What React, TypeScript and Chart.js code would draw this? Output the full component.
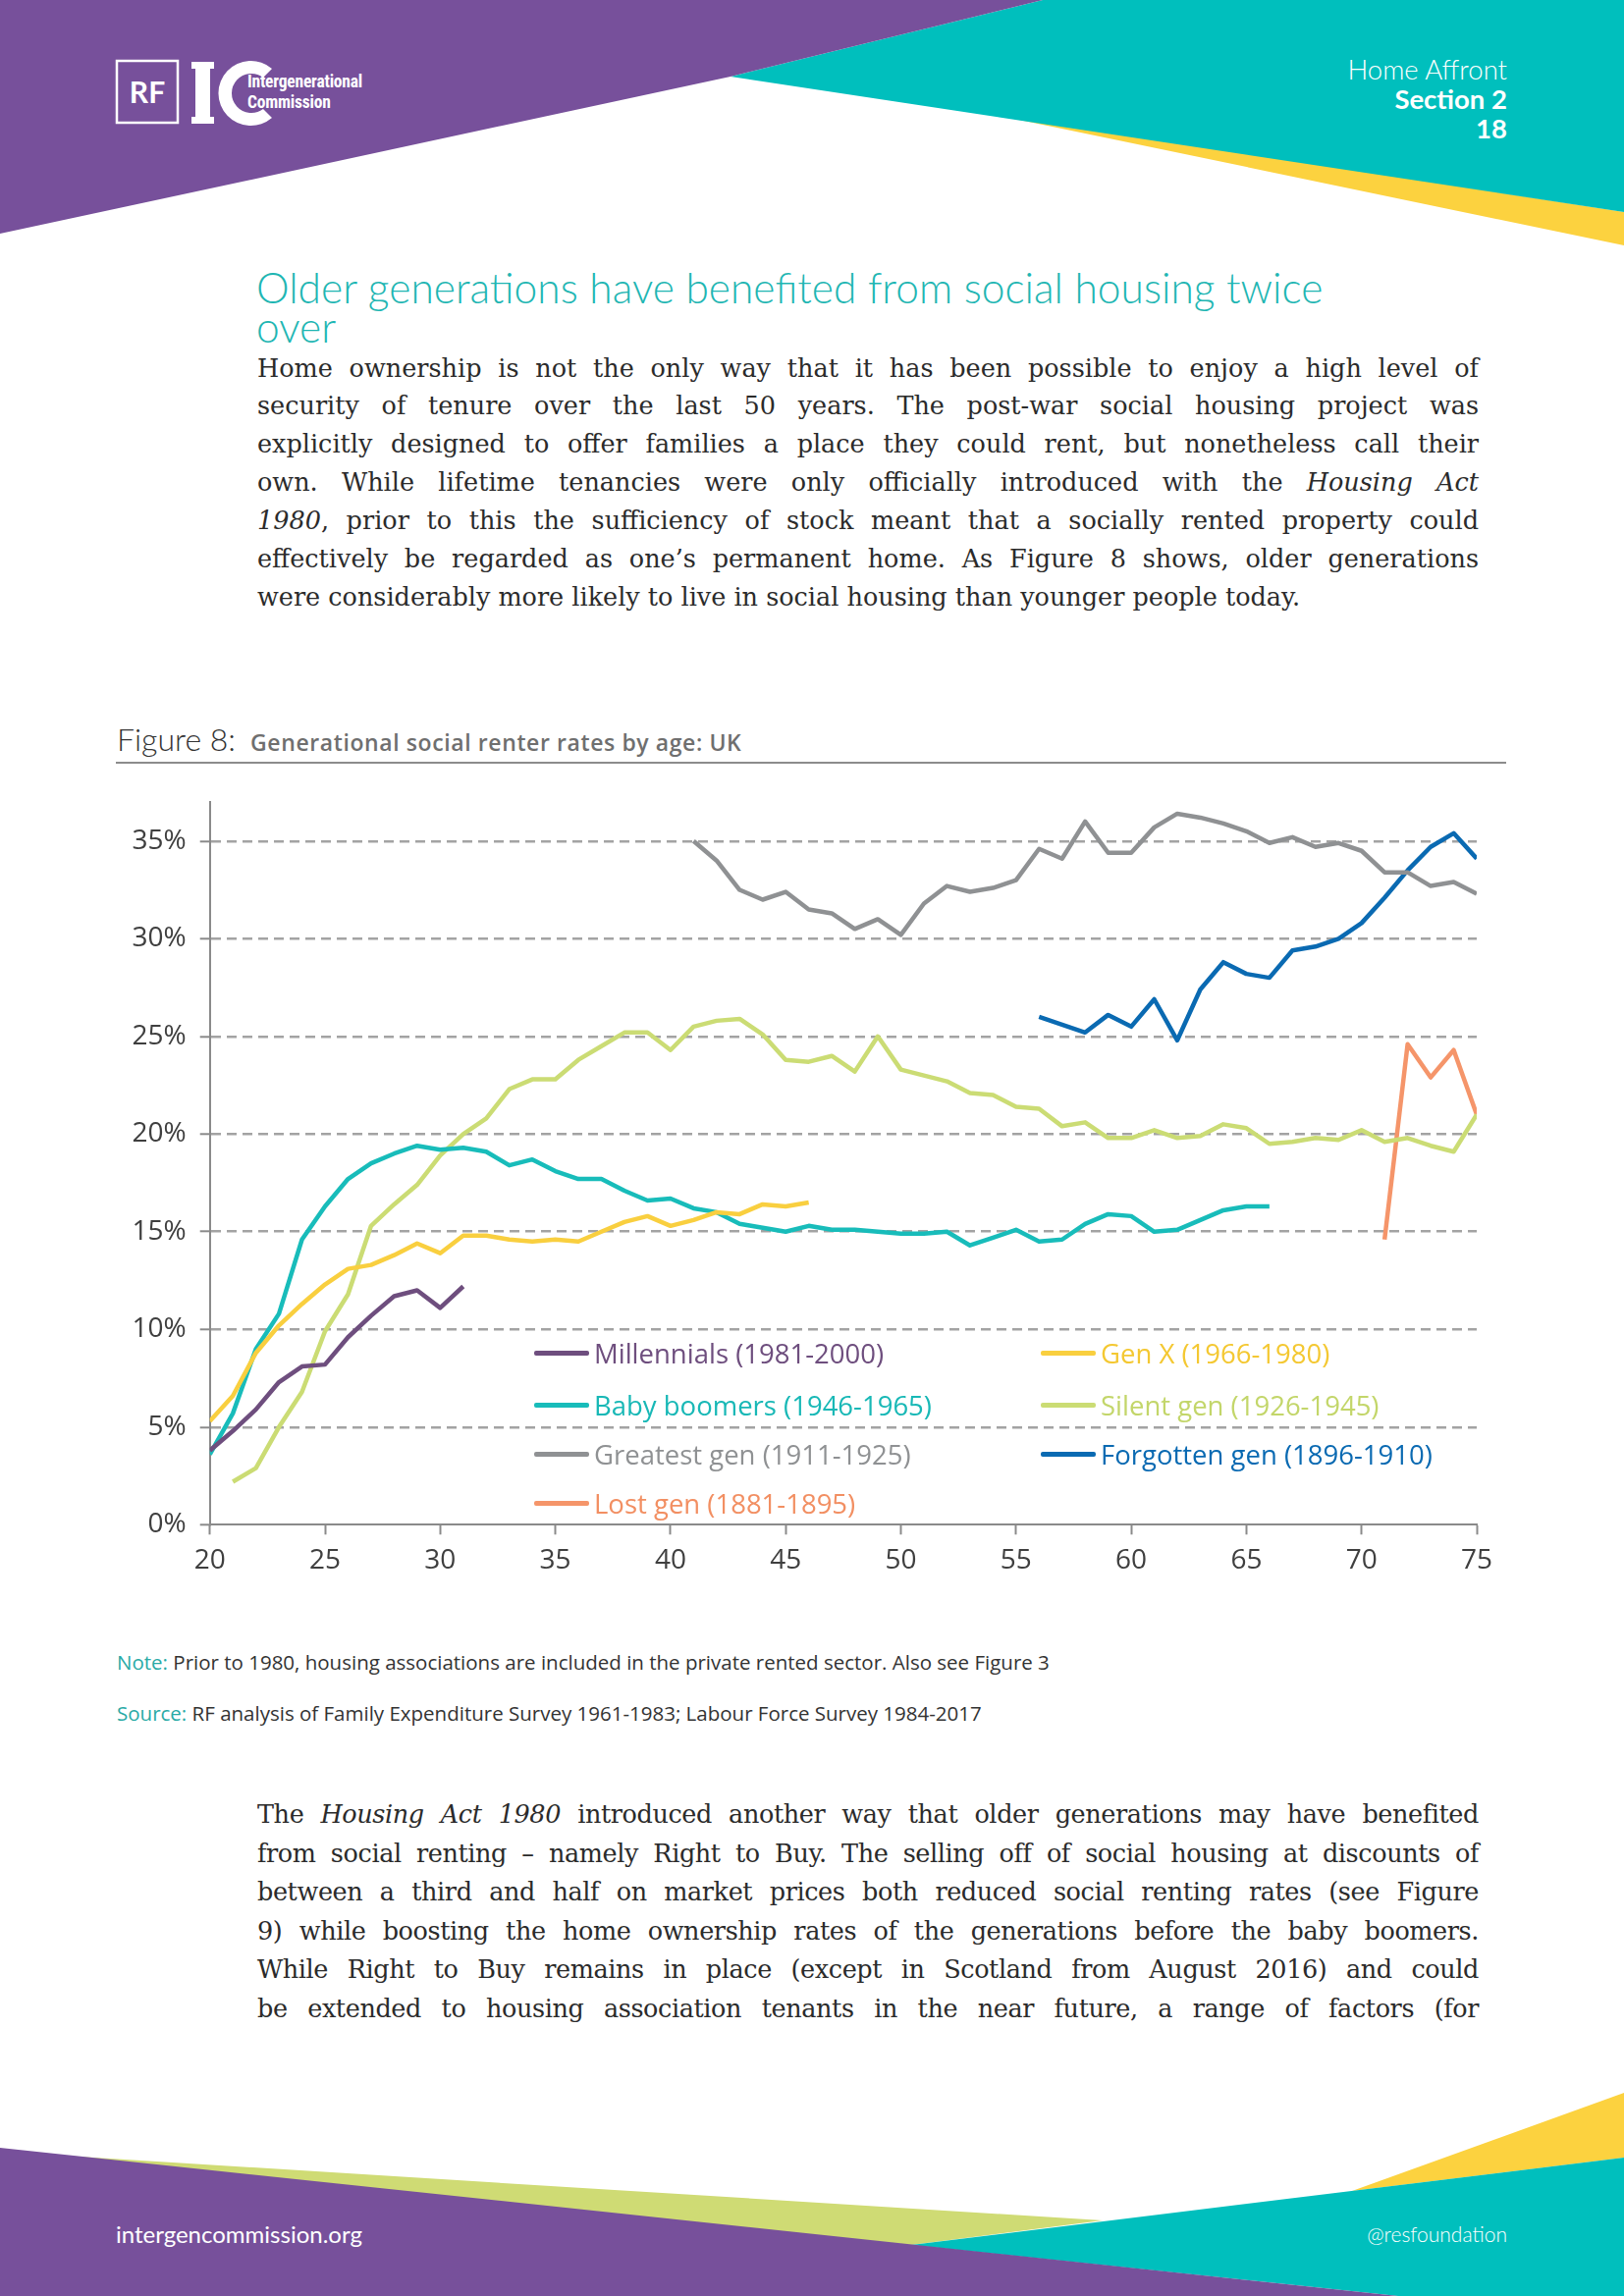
import React, { useEffect, useRef } from "react";
import { Chart, registerables } from "chart.js";

Chart.register(...registerables);

// ---------- DATA ----------
const ageMin = 20;
const ageMax = 75;
const yTickStep = 5;
const yMax = 37;

const millennialsStart = 20;
const millennials = [3.8, 4.8, 5.9, 7.3, 8.1, 8.2, 9.6, 10.7, 11.7, 12.0, 11.1, 12.2];

const genXStart = 20;
const genX = [5.3, 6.6, 8.8, 10.2, 11.3, 12.3, 13.1, 13.3, 13.8, 14.4, 13.9, 14.8, 14.8, 14.6, 14.5, 14.6, 14.5, 15.0, 15.5, 15.8, 15.3, 15.6, 16.0, 15.9, 16.4, 16.3, 16.5];

const boomersStart = 20;
const boomers = [3.6, 5.7, 9.0, 10.8, 14.6, 16.3, 17.7, 18.5, 19.0, 19.4, 19.2, 19.3, 19.1, 18.4, 18.7, 18.1, 17.7, 17.7, 17.1, 16.6, 16.7, 16.2, 16.0, 15.4, 15.2, 15.0, 15.3, 15.1, 15.1, 15.0, 14.9, 14.9, 15.0, 14.3, 14.7, 15.1, 14.5, 14.6, 15.4, 15.9, 15.8, 15.0, 15.1, 15.6, 16.1, 16.3, 16.3];

const silentStart = 21;
const silent = [2.2, 2.9, 5.0, 6.8, 9.9, 11.8, 15.3, 16.4, 17.4, 18.9, 20.0, 20.8, 22.3, 22.8, 22.8, 23.8, 24.5, 25.2, 25.2, 24.3, 25.5, 25.8, 25.9, 25.1, 23.8, 23.7, 24.0, 23.2, 25.0, 23.3, 23.0, 22.7, 22.1, 22.0, 21.4, 21.3, 20.4, 20.6, 19.8, 19.8, 20.2, 19.8, 19.9, 20.5, 20.3, 19.5, 19.6, 19.8, 19.7, 20.2, 19.6, 19.8, 19.4, 19.1, 21.0];

const greatestStart = 41;
const greatest = [35.0, 34.0, 32.5, 32.0, 32.4, 31.5, 31.3, 30.5, 31.0, 30.2, 31.8, 32.7, 32.4, 32.6, 33.0, 34.6, 34.1, 36.0, 34.4, 34.4, 35.7, 36.4, 36.2, 35.9, 35.5, 34.9, 35.2, 34.7, 34.9, 34.5, 33.4, 33.4, 32.7, 32.9, 32.3];

const forgottenStart = 56;
const forgotten = [26.0, 25.6, 25.2, 26.1, 25.5, 26.9, 24.8, 27.4, 28.8, 28.2, 28.0, 29.4, 29.6, 30.0, 30.8, 32.1, 33.5, 34.7, 35.4, 34.1];

const lostStart = 71;
const lost = [14.6, 24.6, 22.9, 24.3, 21.0];

const seriesNames = [
  "Millennials (1981-2000)",
  "Gen X (1966-1980)",
  "Baby boomers (1946-1965)",
  "Silent gen (1926-1945)",
  "Greatest gen (1911-1925)",
  "Forgotten gen (1896-1910)",
  "Lost gen (1881-1895)",
];
const seriesColors = ["#6e4e7e", "#f9cf3f", "#18bcba", "#cbdc74", "#8f9193", "#0a6ab2", "#f5956a"];
const legendTextColors = ["#6e4e7e", "#f4c832", "#18b8b6", "#c3d66a", "#8f9193", "#0a6ab2", "#f28f62"];

// ---------- LAYOUT CONSTANTS ----------
const PAGE_W = 1654;
const PAGE_H = 2339;
const PLOT_TOP = 816.7;
const PAD_TOP = 34;
const CANVAS_LEFT = 100;
const CANVAS_TOP = PLOT_TOP - PAD_TOP;
const CANVAS_W = 1440;
const CANVAS_H = 1613 - CANVAS_TOP;
const SANS = "'Open Sans', sans-serif";

const toPoints = (start: number, values: number[]) => values.map((v, i) => ({ x: start + i, y: v }));

function ChartBlock() {
  const ref = useRef<HTMLCanvasElement | null>(null);
  useEffect(() => {
    if (!ref.current) return;
    const starts = [millennialsStart, genXStart, boomersStart, silentStart, greatestStart, forgottenStart, lostStart];
    const vals = [millennials, genX, boomers, silent, greatest, forgotten, lost];
    const datasets = vals.map((v, i) => ({
      label: seriesNames[i],
      data: toPoints(starts[i], v),
      borderColor: seriesColors[i],
      backgroundColor: seriesColors[i],
      borderWidth: 4.5,
      pointRadius: 0,
      tension: 0,
      borderJoinStyle: "round" as const,
      fill: false,
    }));
    const chart = new Chart(ref.current, {
      type: "line",
      data: { datasets },
      options: {
        animation: false,
        responsive: true,
        maintainAspectRatio: false,
        layout: { padding: { top: PAD_TOP, right: 36, left: 0, bottom: 0 } },
        plugins: { legend: { display: false }, tooltip: { enabled: false } },
        scales: {
          x: {
            type: "linear",
            min: ageMin,
            max: ageMax,
            afterFit: (s: any) => {
              s.height = 60;
            },
            ticks: {
              stepSize: 5,
              padding: 10,
              color: "#3f3f3f",
              font: { family: SANS, size: 28 },
            },
            grid: {
              drawOnChartArea: false,
              drawTicks: true,
              tickLength: 10,
              tickColor: "#8a8a8a",
              tickWidth: 2,
            },
            border: { color: "#8a8a8a", width: 2 },
          },
          y: {
            min: 0,
            max: yMax,
            afterFit: (s: any) => {
              s.width = 113.7;
            },
            ticks: {
              stepSize: yTickStep,
              includeBounds: false,
              padding: 14,
              color: "#3f3f3f",
              font: { family: SANS, size: 28 },
              callback: (v: any) => v + "%",
            },
            grid: {
              color: (c: any) => (c.tick && c.tick.value === 0 ? "rgba(0,0,0,0)" : "#a3a3a3"),
              lineWidth: 2.6,
              tickLength: 10,
              tickColor: "#8a8a8a",
              tickWidth: 2,
              tickBorderDash: [],
            },
            border: { color: "#8a8a8a", width: 2, dash: [10, 6] },
          },
        },
      },
    });
    return () => chart.destroy();
  }, []);
  return (
    <div style={{ position: "absolute", left: CANVAS_LEFT, top: CANVAS_TOP, width: CANVAS_W, height: CANVAS_H }}>
      <canvas ref={ref} />
    </div>
  );
}

const legendPos = [
  { col: 0, row: 0 },
  { col: 1, row: 0 },
  { col: 0, row: 1 },
  { col: 1, row: 1 },
  { col: 0, row: 2 },
  { col: 1, row: 2 },
  { col: 0, row: 3 },
];
const legendColX = [544, 1060];
const legendRowY = [1378, 1431, 1481, 1531];

function Legend() {
  return (
    <>
      {seriesNames.map((n, i) => {
        const p = legendPos[i];
        const x = legendColX[p.col];
        const y = legendRowY[p.row];
        return (
          <div key={n} style={{ position: "absolute", left: x, top: y - 20, height: 40, display: "flex", alignItems: "center", whiteSpace: "nowrap" }}>
            <div style={{ width: 56, height: 5, background: seriesColors[i], borderRadius: 2 }} />
            <span style={{ marginLeft: 5, fontFamily: SANS, fontSize: 27.5, color: legendTextColors[i] }}>{n}</span>
          </div>
        );
      })}
    </>
  );
}

const serif = "'DejaVu Serif', serif";

function JLine({ top, children, last, tight }: { top: number; children: any; last?: boolean; tight?: boolean }) {
  return (
    <div
      style={{
        position: "absolute",
        left: 262,
        width: 1244,
        top: top - 20,
        height: 40,
        lineHeight: "40px",
        fontFamily: serif,
        fontSize: 25.5,
        color: "#2b2b2b",
        textAlign: last ? "left" : "justify",
        textAlignLast: last ? "left" : "justify",
        letterSpacing: tight ? -0.4 : 0,
        whiteSpace: "nowrap",
      }}
    >
      {children}
    </div>
  );
}

const topParaY = [375, 413, 452, 491, 530, 569, 608];
const bottomParaY = [1848, 1888, 1927, 1967, 2006, 2046];

export default function App() {
  const purple = "#77509b";
  const teal = "#00bfbd";
  const yellow = "#fcd23f";
  const lime = "#cfdb74";
  const txt: React.CSSProperties = { position: "absolute", whiteSpace: "nowrap" };
  return (
    <div style={{ position: "absolute", left: 0, top: 0, width: PAGE_W, height: PAGE_H, background: "#fff", overflow: "hidden" }}>
      <svg width={PAGE_W} height={PAGE_H} style={{ position: "absolute", left: 0, top: 0 }}>
        {/* header */}
        <polygon points="990,112 1654,216 1654,250" fill={yellow} />
        <polygon points="1062,0 1654,0 1654,216 744,78" fill={teal} />
        <polygon points="0,0 1062,0 744,78 0,238" fill={purple} />
        {/* logo */}
        <rect x={119} y={62} width={62} height={63} fill="none" stroke="#fff" strokeWidth={2.5} />
        <rect x={199} y={64} width={15} height={62} fill="#fff" />
        <rect x={195} y={63} width={23} height={7} fill="#fff" />
        <rect x={195} y={119} width={23} height={7} fill="#fff" />
        <path d="M 277 70 A 33 33 0 1 0 277 120 L 268 111 A 20 20 0 1 1 268 79 Z" fill="#fff" />
        {/* footer */}
        <polygon points="0,2192 1123,2262 928,2287" fill={lime} />
        <polygon points="1377,2232 1654,2132 1654,2198" fill={yellow} />
        <polygon points="928,2287 1654,2198 1654,2339 1424,2339" fill={teal} />
        <polygon points="0,2188 1424,2339 0,2339" fill={purple} />
      </svg>

      <div style={{ ...txt, left: 119, top: 62, width: 62, height: 63, lineHeight: "63px", textAlign: "center", color: "#fff", fontFamily: "Lato", fontWeight: 700, fontSize: 30 }}>RF</div>
      <div style={{ ...txt, left: 252, top: 73, color: "#fff", fontFamily: "'Roboto Condensed', Roboto, sans-serif", fontWeight: 700, fontSize: 17.5, lineHeight: "21px", letterSpacing: -0.2 }}>
        Intergenerational
        <br />
        Commission
      </div>

      <div style={{ ...txt, right: PAGE_W - 1535, top: 56, color: "#fff", fontFamily: "Lato", fontWeight: 300, fontSize: 27.5, textAlign: "right", lineHeight: "30px" }}>
        Home Affront
        <br />
        <span style={{ fontWeight: 700 }}>Section 2</span>
        <br />
        <span style={{ fontWeight: 700 }}>18</span>
      </div>

      {/* title */}
      <div style={{ ...txt, left: 261, top: 273, color: "#1fb6b3", fontFamily: "Lato", fontWeight: 300, fontSize: 42.5, lineHeight: "40px" }}>
        Older generations have benefited from social housing twice
        <br />
        over
      </div>

      {/* top paragraph */}
      <JLine top={topParaY[0]}>Home ownership is not the only way that it has been possible to enjoy a high level of</JLine>
      <JLine top={topParaY[1]}>security of tenure over the last 50 years. The post-war social housing project was</JLine>
      <JLine top={topParaY[2]}>explicitly designed to offer families a place they could rent, but nonetheless call their</JLine>
      <JLine top={topParaY[3]}>
        own. While lifetime tenancies were only officially introduced with the <i>Housing Act</i>
      </JLine>
      <JLine top={topParaY[4]}>
        <i>1980</i>, prior to this the sufficiency of stock meant that a socially rented property could
      </JLine>
      <JLine top={topParaY[5]}>effectively be regarded as one’s permanent home. As Figure 8 shows, older generations</JLine>
      <JLine top={topParaY[6]} last>
        were considerably more likely to live in social housing than younger people today.
      </JLine>

      {/* figure caption */}
      <div style={{ ...txt, left: 119, top: 733, lineHeight: "40px", display: "flex", alignItems: "baseline" }}>
        <span style={{ fontFamily: "Lato", fontWeight: 300, fontSize: 32, color: "#333" }}>Figure 8:</span>
        <span style={{ marginLeft: 15, fontFamily: SANS, fontWeight: 600, fontSize: 23, letterSpacing: 0.6, color: "#6f6f6f" }}>Generational social renter rates by age: UK</span>
      </div>
      <div style={{ position: "absolute", left: 118, top: 776, width: 1416, height: 1.5, background: "#8c8c8c" }} />

      <ChartBlock />
      <Legend />

      {/* notes */}
      <div style={{ ...txt, left: 119, top: 1679, fontFamily: SANS, fontSize: 20.5, color: "#333" }}>
        <span style={{ color: "#2aaaa6" }}>Note:</span> Prior to 1980, housing associations are included in the private rented sector. Also see Figure 3
      </div>
      <div style={{ ...txt, left: 119, top: 1731, fontFamily: SANS, fontSize: 20.5, color: "#333" }}>
        <span style={{ color: "#2aaaa6" }}>Source:</span> RF analysis of Family Expenditure Survey 1961-1983; Labour Force Survey 1984-2017
      </div>

      {/* bottom paragraph */}
      <JLine top={bottomParaY[0]} tight>
        The <i>Housing Act 1980</i> introduced another way that older generations may have benefited
      </JLine>
      <JLine top={bottomParaY[1]} tight>from social renting – namely Right to Buy. The selling off of social housing at discounts of</JLine>
      <JLine top={bottomParaY[2]} tight>between a third and half on market prices both reduced social renting rates (see Figure</JLine>
      <JLine top={bottomParaY[3]} tight>9) while boosting the home ownership rates of the generations before the baby boomers.</JLine>
      <JLine top={bottomParaY[4]} tight>While Right to Buy remains in place (except in Scotland from August 2016) and could</JLine>
      <JLine top={bottomParaY[5]} tight>be extended to housing association tenants in the near future, a range of factors (for</JLine>

      {/* footer */}
      <div style={{ ...txt, left: 118, top: 2261, color: "#fff", fontFamily: "Lato", fontSize: 24 }}>intergencommission.org</div>
      <div style={{ ...txt, right: PAGE_W - 1535, top: 2263, color: "#fff", fontFamily: "Lato", fontWeight: 300, fontSize: 21 }}>@resfoundation</div>
    </div>
  );
}
